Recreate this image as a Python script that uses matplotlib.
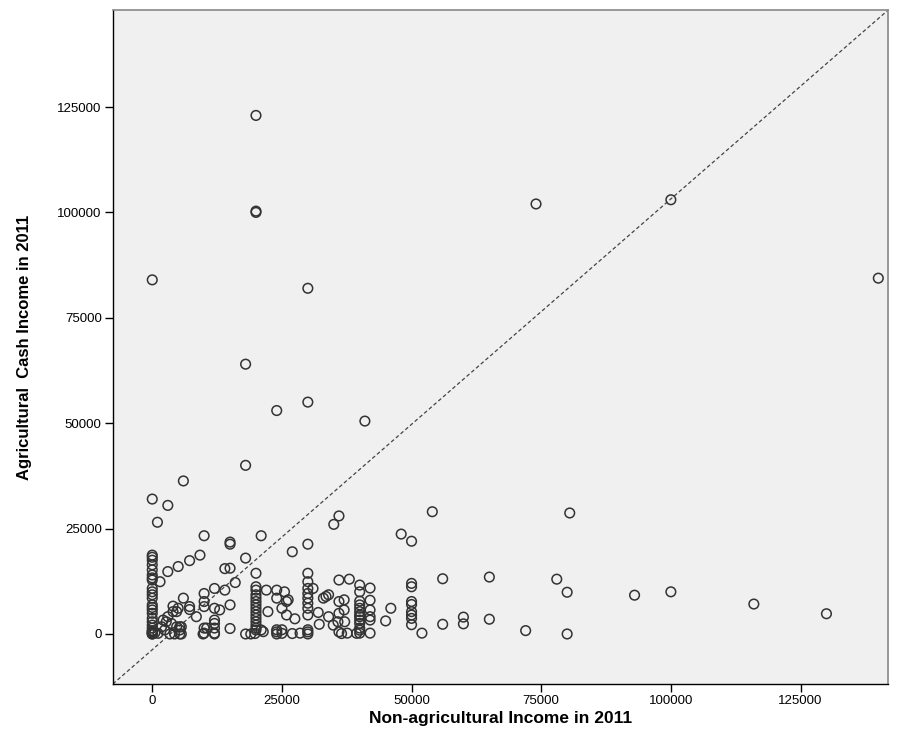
import numpy as np
import matplotlib
matplotlib.use("Agg")
import matplotlib.pyplot as plt

plt.rcParams['font.family'] = ['Liberation Sans', 'DejaVu Sans']

# Non-agricultural income (x) and agricultural cash income (y), 2011
# outliers / upper part
x_upper = [20000, 20000, 20000, 0, 30000, 74000, 100000, 140000, 18000, 24000,
           30000, 41000, 18000, 6000, 0, 3000, 1000, 10000, 15000, 15000,
           21000, 27000, 36000, 35000, 54000, 48000, 50000, 30000, 80500]
y_upper = [123000, 100000, 100300, 84000, 82000, 102000, 103000, 84400, 64000, 53000,
           55000, 50500, 40000, 36300, 32000, 30500, 26500, 23300, 21800, 21300,
           23300, 19500, 28000, 26000, 29000, 23700, 22000, 21300, 28700]

# right-hand low part
x_right = [65000, 65000, 72000, 78000, 80000, 80000, 93000, 100000, 116000, 130000,
           60000, 60000, 56000, 56000, 52000, 46000, 45000]
y_right = [13500, 3500, 800, 13000, 9900, 0, 9200, 10000, 7100, 4800,
           4000, 2400, 13100, 2300, 200, 6100, 3100]

# columns at round values
x_col50 = [50000] * 8
y_col50 = [12000, 11200, 7700, 7000, 5300, 4500, 3700, 2200]
x_col42 = [42000] * 6
y_col42 = [10900, 8000, 5700, 4100, 3300, 200]
x_col40 = [40000] * 13
y_col40 = [11600, 10000, 7800, 6900, 6100, 5300, 4500, 4100, 3300, 2500, 1400, 900, 200]
x_col30 = [30000] * 11
y_col30 = [14400, 12400, 10800, 9600, 8500, 7300, 6100, 4500, 1000, 500, 0]
x_col20 = [20000] * 15
y_col20 = [14400, 11200, 10400, 9300, 8500, 7700, 6900, 6100, 5300, 4500,
           3700, 2900, 2100, 1400, 950]
x_col0 = [0] * 26
y_col0 = [18700, 18200, 17500, 16400, 15200, 14000, 13300, 12800, 10800, 10000,
          9300, 8500, 6900, 6300, 5700, 4900, 3700, 2900, 2100, 1400,
          800, 600, 400, 200, 0, 0]

# scattered points between the columns
x_mid = [39400, 36000, 38000, 36000, 37000, 37000, 36000, 35800, 37100, 36000,
         36500, 37600, 34000, 33500, 33000, 34000, 34900, 32000, 32200, 31000,
         27500, 27000, 28500, 25500, 26200, 25000, 25900, 25900, 25000, 25000,
         24000, 24000, 24000, 24000, 24000, 22000, 22300, 21400, 21000, 18000,
         18000, 19000, 19800, 16000, 15000, 14000, 15000, 15000, 14000, 13000,
         12000, 12000, 12000, 12000, 12000, 12000, 12000, 10000, 10000, 10000,
         10000, 10500, 10000, 9800]
y_mid = [160, 12800, 13000, 7700, 8100, 5700, 4900, 2900, 2900, 500,
         100, 200, 9300, 8900, 8500, 4100, 2100, 5100, 2300, 10800,
         3600, 100, 200, 10000, 8100, 6100, 7700, 4500, 1000, 150,
         10400, 8500, 1000, 500, 0, 10400, 5300, 550, 950, 18000,
         0, 0, 100, 12200, 15600, 15500, 6900, 1300, 10400, 5700,
         10800, 6100, 3300, 2500, 1400, 200, 0, 9600, 7700, 6500,
         1400, 1400, 200, 0]

# low values near the origin
x_low = [1500, 3000, 5000, 7200, 9200, 6000, 7200, 4700, 3000, 8500,
         4000, 7200, 5600, 5600, 2100, 3700, 4700, 5300, 2400, 1100,
         3400, 4300, 5300, 1800, 2700, 4000, 5000, 5300, 500]
y_low = [12400, 14800, 16000, 17400, 18700, 8500, 6500, 5300, 4100, 4100,
         6600, 5800, 1700, 0, 3300, 2500, 1700, 950, 950, 150,
         0, 0, 0, 1700, 2900, 5300, 6100, 1700, 300]

x_all = x_upper + x_right + x_col50 + x_col42 + x_col40 + x_col30 + x_col20 + x_col0 + x_mid + x_low
y_all = y_upper + y_right + y_col50 + y_col42 + y_col40 + y_col30 + y_col20 + y_col0 + y_mid + y_low

ticks = [0, 25000, 50000, 75000, 100000, 125000]

fig = plt.figure(figsize=(9.1, 7.38), dpi=100)
ax = fig.add_axes([0.124, 0.0732, 0.852, 0.9132])
ax.set_facecolor('#f0f0f0')

ax.scatter(x_all, y_all, s=48, facecolors='none', edgecolors='#333333', linewidths=1.1, zorder=3)

# reference line corner to corner
ax.plot([0, 1], [0, 1], transform=ax.transAxes, color='#444444', lw=0.9,
        linestyle=(0, (3, 2)), zorder=2)

ax.set_xlim(-7600, 141900)
ax.set_ylim(-11860, 148000)
ax.set_xticks(ticks)
ax.set_yticks(ticks)
ax.set_xticklabels([str(t) for t in ticks], fontsize=9.5,
                   family=['Liberation Sans Narrow', 'Liberation Sans'])
ax.set_yticklabels([str(t) for t in ticks], fontsize=9.5)
ax.tick_params(direction='out', length=6, width=1, color='black', pad=2)

for s in ['left', 'bottom']:
    ax.spines[s].set_color('black')
    ax.spines[s].set_linewidth(1.0)
for s in ['top', 'right']:
    ax.spines[s].set_color('#888888')
    ax.spines[s].set_linewidth(1.2)

ax.set_xlabel('Non-agricultural Income in 2011', fontsize=12.5, fontweight='bold',
              family=['Liberation Sans Narrow', 'Liberation Sans'], labelpad=3)
ax.set_ylabel('Agricultural  Cash Income in 2011', fontsize=12, fontweight='bold', labelpad=18)

fig.savefig('out.png', dpi=100)
